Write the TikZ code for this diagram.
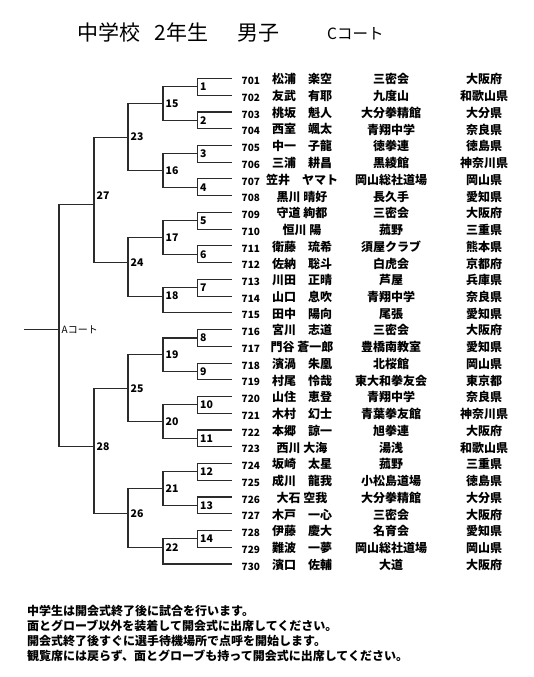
\documentclass[tikz,border=0pt]{standalone}
\usepackage{fontspec}
\setmainfont{Noto Sans CJK JP}
\definecolor{ink}{HTML}{2B2B2B}
\tikzset{
  wire/.style={draw=ink, line width=1.1pt},
  mno/.style={anchor=west, inner sep=0pt, font=\bfseries\fontsize{10.5}{12}\selectfont},
  seedno/.style={anchor=west, inner sep=0pt, font=\bfseries\fontsize{10}{12}\selectfont},
  cell/.style={inner sep=0pt, font=\bfseries\fontsize{12}{14}\selectfont},
}

\begin{document}
\begin{tikzpicture}[x=1pt,y=-1pt]
  \useasboundingbox (0,0) rectangle (534,677);
  % heading
  \node[anchor=west, inner sep=0pt, font=\fontsize{21}{24}\selectfont] (title) at (77,32) {中学校\hspace{0.7em}2年生\hspace{1.4em}男子};
  \node[anchor=west, inner sep=0pt, font=\fontsize{15.5}{17}\selectfont] (court) at (327,34) {Cコート};

  \begin{scope}[yshift=-78.5pt, y=-8.37pt]
    % entries, one every two half-rows
    \foreach \seed/\who/\club/\pref [count=\i from 0] in {
      701/松浦　楽空/三密会/大阪府, 702/友武　有耶/九度山/和歌山県,
      703/桃坂　魁人/大分拳精館/大分県, 704/西室　颯太/青翔中学/奈良県,
      705/中一　子龍/徳拳連/徳島県, 706/三浦　耕昌/黒綾館/神奈川県,
      707/笠井　ヤマト/岡山総社道場/岡山県, 708/黒川 晴好/長久手/愛知県,
      709/守道 絢都/三密会/大阪府, 710/恒川 陽/菰野/三重県,
      711/衛藤　琉希/須屋クラブ/熊本県, 712/佐納　聡斗/白虎会/京都府,
      713/川田　正晴/芦屋/兵庫県, 714/山口　息吹/青翔中学/奈良県,
      715/田中　陽向/尾張/愛知県, 716/宮川　志道/三密会/大阪府,
      717/門谷 蒼一郎/豊橋南教室/愛知県, 718/濱渦　朱凰/北桜館/岡山県,
      719/村尾　怜哉/東大和拳友会/東京都, 720/山住　恵登/青翔中学/奈良県,
      721/木村　幻士/青葉拳友館/神奈川県, 722/本郷　諒一/旭拳連/大阪府,
      723/西川 大海/湯浅/和歌山県, 724/坂崎　太星/菰野/三重県,
      725/成川　龍我/小松島道場/徳島県, 726/大石 空我/大分拳精館/大分県,
      727/木戸　一心/三密会/大阪府, 728/伊藤　慶大/名育会/愛知県,
      729/難波　一夢/岡山総社道場/岡山県, 730/濱口　佐輔/大道/大阪府} {
      \coordinate (r\seed) at (232,2*\i);
      \node[seedno] (n\seed) at (241.5,2*\i+0.3) {\seed};
      \node[cell] (who\seed) at (302,2*\i+0.1) {\who};
      \node[cell] (club\seed) at (391,2*\i+0.1) {\club};
      \node[cell] (pref\seed) at (484,2*\i+0.1) {\pref};
    }

    % match points
    \foreach \m/\x/\k in {1/197.5/1, 2/197.5/5, 3/197.5/9, 4/197.5/13, 5/197.5/17,
      6/197.5/21, 7/197.5/25, 8/197.5/31, 9/197.5/35, 10/197.5/39, 11/197.5/43,
      12/197.5/47, 13/197.5/51, 14/197.5/55,
      15/163/3, 16/163/11, 17/163/19, 18/163/26, 19/163/33, 20/163/41, 21/163/49, 22/163/56,
      23/128/7, 24/128/22, 25/128/37, 26/128/52,
      27/94/15, 28/94/44, fin/59/30}
      \coordinate (m\m) at (\x,\k);
    \coordinate (entry) at (24,30);

    % first round
    \foreach \m/\a/\b in {1/701/702, 2/703/704, 3/705/706, 4/707/708, 5/709/710,
      6/711/712, 7/713/714, 8/716/717, 9/718/719, 10/720/721, 11/722/723,
      12/724/725, 13/726/727, 14/728/729}
      \draw[wire] (r\a) -| (m\m) |- (r\b);
    % later rounds
    \foreach \m/\a/\b in {15/m1/m2, 16/m3/m4, 17/m5/m6, 18/m7/r715, 19/m8/m9,
      20/m10/m11, 21/m12/m13, 22/m14/r730, 23/m15/m16, 24/m17/m18, 25/m19/m20,
      26/m21/m22, 27/m23/m24, 28/m25/m26, fin/m27/m28}
      \draw[wire] (\a) -| (m\m) |- (\b);
    \draw[wire] (entry) -- (mfin);

    % match numbers
    \foreach \m in {1,...,26,28}
      \node[mno] (l\m) at (m\m) [xshift=2.5pt] {\m};
    \node[mno] (l27) at (96.5,14) {27};
    \node[anchor=west, inner sep=0pt, font=\fontsize{10}{12}\selectfont] (acourt) at (mfin) [xshift=2.5pt] {Aコート};
  \end{scope}

  % notes
  \node[anchor=north west, inner sep=0pt, align=left, font=\bfseries\fontsize{12}{15}\selectfont] (note) at (27,605)
    {中学生は開会式終了後に試合を行います。\\
     面とグローブ以外を装着して開会式に出席してください。\\
     開会式終了後すぐに選手待機場所で点呼を開始します。\\
     観覧席には戻らず、面とグローブも持って開会式に出席してください。};
\end{tikzpicture}
\end{document}
